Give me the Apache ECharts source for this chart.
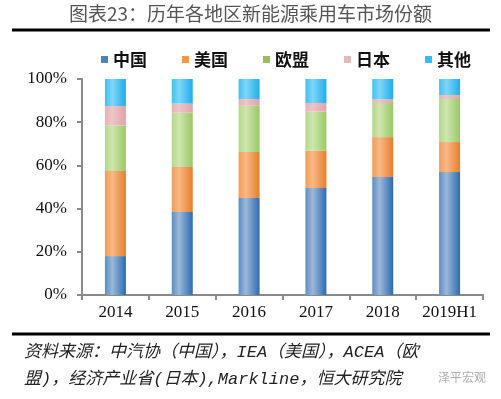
<!DOCTYPE html>
<html>
<head>
<meta charset="UTF-8">
<title>新能源乘用车市场份额</title>
<script src="https://cdn.jsdelivr.net/npm/echarts@6/dist/echarts.min.js"></script>
<style>
  html, body { margin: 0; padding: 0; background: #fff; }
</style>
</head>
<body>
<div id="main" style="width:501px;height:399px;"></div>
<script type="text/javascript">
// 年份
var years = ['2014', '2015', '2016', '2017', '2018', '2019H1'];
// 各地区份额（%）
var china  = [18.0, 38.4, 44.9, 49.5, 54.6, 56.9];
var usa    = [39.4, 20.9, 21.3, 17.3, 18.5, 13.9];
var eu     = [21.0, 25.1, 21.4, 18.1, 15.8, 19.9];
var japan  = [9.1, 4.2, 3.1, 4.0, 1.7, 1.9];
var others = [12.5, 11.4, 9.3, 11.1, 9.4, 7.4];
var names  = ['中国', '美国', '欧盟', '日本', '其他'];

var CJK = '"Noto Sans CJK SC", sans-serif';
var SERIF = '"Liberation Serif", "DejaVu Serif", serif';
var NOTE = '"Liberation Mono", "Noto Sans CJK SC", monospace';

function barColor(edge, light, dark) {
  return new echarts.graphic.LinearGradient(0, 0, 1, 0, [
    { offset: 0, color: edge },
    { offset: 0.35, color: light },
    { offset: 1, color: dark }
  ]);
}

var palette = [
  ['#5B8DC4', '#9CB8D8', '#2C6AB0'],
  ['#F39B55', '#F9B887', '#E47F2B'],
  ['#B3D788', '#CFE6AE', '#99C765'],
  ['#E6B1B5', '#EEC6C8', '#DFA3A7'],
  ['#3FC0F2', '#80D6F8', '#1FAEEA']
];
var legendColors = ['#4F81BD', '#F79646', '#9BBB59', '#E6B9B8', '#33BDF2'];
var values = [china, usa, eu, japan, others];

var series = [];
for (var i = 0; i < names.length; i++) {
  series.push({
    name: names[i],
    type: 'bar',
    stack: 'share',
    barWidth: 21,
    data: values[i],
    itemStyle: { color: barColor(palette[i][0], palette[i][1], palette[i][2]) }
  });
}

var myChart = echarts.init(document.getElementById('main'));
var option = {
  animation: false,
  backgroundColor: '#fff',
  color: legendColors,
  grid: { left: 82, right: 18, top: 79, bottom: 104, containLabel: false },
  legend: {
    top: 46,
    left: 96,
    itemWidth: 7,
    itemHeight: 7,
    itemGap: 35,
    icon: 'rect',
    textStyle: { fontFamily: CJK, fontWeight: 'bold', fontSize: 17, color: '#111' },
    data: names.map(function (n, k) { return { name: n, itemStyle: { color: legendColors[k] } }; })
  },
  xAxis: {
    type: 'category',
    data: years,
    boundaryGap: true,
    axisLine: { lineStyle: { color: '#8a8a8a', width: 2 } },
    axisTick: { show: true, alignWithLabel: false, interval: 0, length: 5, lineStyle: { color: '#8a8a8a', width: 2 } },
    axisLabel: { interval: 0, fontFamily: SERIF, fontSize: 17, color: '#111', margin: 9 }
  },
  yAxis: {
    type: 'value',
    min: 0,
    max: 100,
    interval: 20,
    axisLine: { show: true, lineStyle: { color: '#8a8a8a', width: 2 } },
    axisTick: { show: true, length: 5, lineStyle: { color: '#8a8a8a', width: 2 } },
    splitLine: { show: false },
    axisLabel: { fontFamily: SERIF, fontSize: 17, color: '#111', margin: 15, formatter: '{value}%' }
  },
  graphic: [
    {
      type: 'text', left: 'center', top: 4,
      style: { text: '图表23：历年各地区新能源乘用车市场份额', font: '19px ' + CJK, fill: '#555' }
    },
    {
      type: 'line', shape: { x1: 12, y1: 30, x2: 490, y2: 30 },
      style: { stroke: '#000', lineWidth: 3 }
    },
    {
      type: 'line', shape: { x1: 12, y1: 334, x2: 490, y2: 334 },
      style: { stroke: '#000', lineWidth: 3 }
    },
    {
      type: 'text', left: 24, top: 344,
      style: { text: '资料来源：中汽协（中国），IEA（美国），ACEA（欧', font: 'italic 17px ' + NOTE, fill: '#222' }
    },
    {
      type: 'text', left: 24, top: 371,
      style: { text: '盟)，经济产业省(日本),Markline，恒大研究院', font: 'italic 17px ' + NOTE, fill: '#222' }
    },
    {
      type: 'text', left: 438, top: 371,
      style: { text: '泽平宏观', font: '12px ' + CJK, fill: 'rgba(150,150,150,0.8)' }
    }
  ],
  series: series
};
myChart.setOption(option);
</script>
</body>
</html>
